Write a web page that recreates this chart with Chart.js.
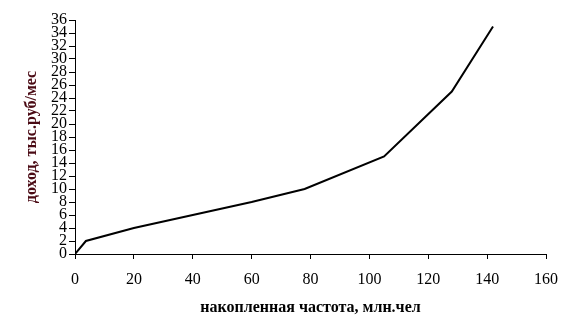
<!DOCTYPE html>
<html>
<head>
<meta charset="utf-8">
<script src="https://cdn.jsdelivr.net/npm/chart.js@4"></script>
<style>
    html, body { margin: 0; padding: 0; background: #fff; }
    #wrap { width: 576px; height: 329px; }
</style>
</head>
<body>
<div id="wrap"><canvas id="incomeChart" width="576" height="329"></canvas></div>
<script>
// Cumulative frequency (mln people) vs income (thousand rub/month)
const cumFreq = [0, 3.7, 20, 40, 60, 78, 105, 128, 142];
const income = [0, 2, 4, 6, 8, 10, 15, 25, 35];

const xTitle = 'накопленная частота, млн.чел';
const yTitle = 'доход, тыс.руб/мес';

const points = cumFreq.map((x, i) => ({ x: x, y: income[i] }));

const serif = '"Liberation Serif", "Times New Roman", serif';

new Chart(document.getElementById('incomeChart'), {
    type: 'line',
    data: {
        datasets: [{
            data: points,
            borderColor: '#000',
            borderWidth: 2,
            pointRadius: 0,
            fill: false,
            tension: 0
        }]
    },
    options: {
        responsive: false,
        animation: false,
        layout: {
            padding: { top: 20, right: 30, bottom: 0, left: 0 }
        },
        plugins: {
            legend: { display: false },
            tooltip: { enabled: false }
        },
        scales: {
            x: {
                type: 'linear',
                min: 0,
                max: 160,
                afterFit: scale => { scale.height = 75; },
                ticks: {
                    stepSize: 20,
                    color: '#000',
                    padding: 11,
                    maxRotation: 0,
                    font: { family: serif, size: 16 }
                },
                grid: { drawOnChartArea: false, color: '#000', tickLength: 5 },
                border: { color: '#000', width: 1 },
                title: {
                    display: true,
                    text: xTitle,
                    color: '#000',
                    padding: { top: 0, bottom: 12 },
                    font: { family: serif, size: 16, weight: 'bold' }
                }
            },
            y: {
                min: 0,
                max: 36,
                afterFit: scale => { scale.width = 75; },
                ticks: {
                    stepSize: 2,
                    autoSkip: false,
                    color: '#000',
                    padding: 2,
                    font: { family: serif, size: 16 }
                },
                grid: { drawOnChartArea: false, color: '#000', tickLength: 6 },
                border: { color: '#000', width: 1 },
                title: {
                    display: true,
                    text: yTitle,
                    color: '#4a0a14',
                    padding: { top: 22, bottom: 0 },
                    font: { family: serif, size: 16, weight: 'bold' }
                }
            }
        }
    }
});
</script>
</body>
</html>
